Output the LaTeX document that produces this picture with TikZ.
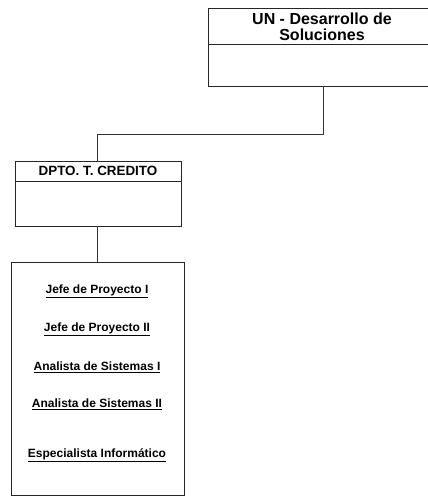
\documentclass[tikz,border=0pt]{standalone}
\usepackage{fontspec}
\setmainfont{Liberation Sans}
\begin{document}
\begin{tikzpicture}[x=1pt,y=-1pt,
  frame/.style={draw=black!85,line width=0.9pt},
  title/.style={font=\bfseries\fontsize{16}{16}\selectfont,align=center,inner sep=0pt},
  dept/.style={font=\bfseries\fontsize{13.4}{14}\selectfont,inner sep=0pt},
  post/.style={font=\bfseries\fontsize{12}{13}\selectfont,inner sep=0pt},
  link/.style={draw=black!80,line width=0.9pt}]
\useasboundingbox (0,0) rectangle (428,496);
\begin{scope}
\clip (0,0) rectangle (428,496);
% top unit
\draw[frame] (208,8) rectangle (436,86);
\draw[frame] (208,44) -- (436,44);
\node[title] (un) at (322,27) {UN - Desarrollo de\\Soluciones};
\coordinate (unb) at (323,86);
% department
\draw[frame] (15,161) rectangle (181,226);
\draw[frame] (15,181) -- (181,181);
\node[dept] (dpto) at (98,171) {DPTO. T. CREDITO};
\coordinate (dpt) at (97,161);
\coordinate (dpb) at (97,226);
% staff list
\draw[frame] (11,262) rectangle (184,495);
\coordinate (lst) at (97,262);
\node[post] (p1) at (97,291) {\underline{Jefe de Proyecto I}};
\node[post] (p2) at (97,329) {\underline{Jefe de Proyecto II}};
\node[post] (p3) at (97,367) {\underline{Analista de Sistemas I}};
\node[post] (p4) at (97,404) {\underline{Analista de Sistemas II}};
\node[post] (p5) at (97,455) {\underline{Especialista Informático}};
% connectors
\draw[link] (unb) -- (323,134) -- (97,134) -- (dpt);
\draw[link] (dpb) -- (lst);
\end{scope}
\end{tikzpicture}
\end{document}
